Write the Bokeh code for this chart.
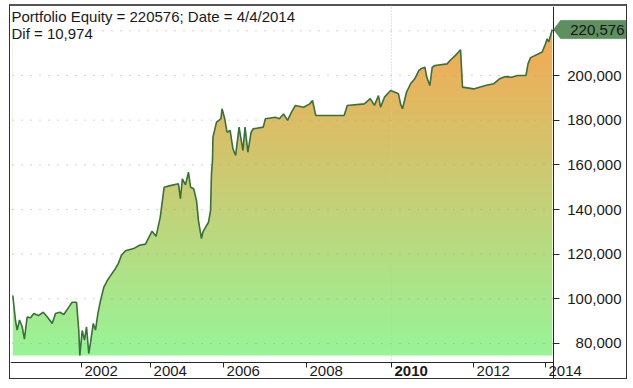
import numpy as np
from bokeh.plotting import figure
from bokeh.models import (Range1d, LinearAxis, FixedTicker, CustomJSTickFormatter,
                          Label, PolyAnnotation)
from bokeh.embed import file_html
from bokeh.resources import INLINE

# ---- data (bar index of the trading day, portfolio equity) ----
bars = [2, 20, 31, 47, 65, 80, 98, 121, 143, 174, 206, 232, 266, 288, 317, 344, 377, 400, 429, 444,
        451, 467, 482, 496, 511, 523, 541, 556, 572, 590, 612, 635, 657, 690, 710, 730, 757, 811, 851, 891,
        935, 962, 990, 1016, 1057, 1112, 1125, 1138, 1159, 1179, 1193, 1214, 1233, 1246, 1266, 1276, 1293,
        1313, 1327, 1333, 1340, 1343, 1367, 1396, 1404, 1422, 1437, 1458, 1477, 1495, 1518, 1544, 1558,
        1577, 1599, 1612, 1680, 1694, 1761, 1788, 1816, 1843, 1869, 1896, 1950, 1991, 2010, 2032, 2222,
        2243, 2357, 2397, 2425, 2452, 2466, 2492, 2533, 2559, 2586, 2600, 2613, 2640, 2667, 2695, 2722,
        2736, 2763, 2776, 2796, 2812, 2831, 2912, 2931, 2968, 3002, 3015, 3089, 3169, 3223, 3263, 3303,
        3343, 3384, 3440, 3454, 3471, 3549, 3571, 3582, 3593, 3616]
equity = [101500, 90300, 86000, 90500, 87500, 82000, 91800, 91500, 93400, 92500, 94000, 92000, 89000,
          93400, 94000, 93000, 96300, 98500, 98500, 85800, 74600, 85800, 81500, 87500, 75500, 80500, 89000,
          86000, 93400, 99300, 105200, 108200, 110400, 113600, 116000, 119500, 121500, 122500, 124000,
          124500, 130300, 128000, 136600, 150000, 150700, 151500, 144800, 153700, 151000, 156700, 150000,
          149300, 144000, 135000, 127000, 130000, 132000, 134300, 139500, 156000, 162000, 172400, 179100,
          180600, 185100, 180600, 174600, 175400, 167200, 164200, 176900, 166400, 176900, 165700, 174600,
          176100, 176900, 180600, 181300, 180600, 182800, 179900, 183600, 186600, 185800, 187300, 188800,
          182100, 182100, 186600, 187300, 189600, 186600, 191000, 185800, 190300, 193300, 192600, 191800,
          187300, 185100, 192600, 196300, 198500, 202200, 203000, 203700, 199200, 195500, 203700, 204500,
          205200, 206700, 209000, 211500, 194800, 194000, 195500, 196300, 198500, 199500, 199200, 200000,
          200000, 205200, 208000, 210500, 214200, 216400, 215000, 220576]

year_labels = ["2002", "2004", "2006", "2008", "2010", "2012", "2014"]
year_bars = [462, 925, 1414, 1970, 2539, 3089, 3571]
bold_year = "2010"
y_ticks = [80000, 100000, 120000, 140000, 160000, 180000, 200000, 220000]
y_labeled = [80000, 100000, 120000, 140000, 160000, 180000, 200000]
title_line1 = "Portfolio Equity = 220576; Date = 4/4/2014"
title_line2 = "Dif = 10,974"
last_text = "220,576"

# ---- layout (frame covers the whole bordered box; plot area ends at x_plot / y_plot) ----
W, H = 618, 375
x_start, x_end = -13.4, 4127.2
y_start, y_end = 62985, 230896
x_plot = 3624.7     # right edge of the plotting area (y axis line)
y_plot = 71493      # bottom edge of the plotting area (x axis line)
bpp = (x_end - x_start) / W
vpp = (y_end - y_start) / H
FONT = "Liberation Sans"
DARK = "#262626"
TXT = "#1a1a1a"

p = figure(width=W, height=H, x_range=Range1d(x_start, x_end), y_range=Range1d(y_start, y_end),
           output_backend="svg", toolbar_location=None, title=None,
           x_axis_location=None, y_axis_location=None,
           min_border_left=0, min_border_top=0, min_border_right=0, min_border_bottom=0)
p.outline_line_color = None
p.background_fill_color = "white"
p.border_fill_color = "white"
p.styles = {"margin-left": "9px", "margin-top": "4px",
            "border": "1px solid #333333", "border-top": "2px solid #555555"}
for g in p.grid:
    g.visible = False

# gradient fill under the curve: image then white mask above the curve
base = min(equity)
top = max(equity)
n = 256
t = np.linspace(0, 1, n)
c_bot = np.array([152, 245, 152])
c_top = np.array([246, 168, 82])
cols = (c_bot[None, :] * (1 - t[:, None]) + c_top[None, :] * t[:, None]).astype(np.uint8)
img = np.empty((n, 1), dtype=np.uint32)
view = img.view(dtype=np.uint8).reshape((n, 1, 4))
view[:, 0, 0:3] = cols
view[:, 0, 3] = 255
p.image_rgba(image=[img], x=bars[0], y=base, dw=bars[-1] - bars[0], dh=top - base)
p.varea(x=bars, y1=equity, y2=y_end, fill_color="white")

# grid lines (limited to the plotting area)
p.segment(x0=[x_start + 2 * bpp] * len(y_ticks), y0=y_ticks, x1=[x_plot] * len(y_ticks), y1=y_ticks,
          line_color="#A8A8A8", line_dash="1 8", line_width=1)
decade_bar = year_bars[year_labels.index(bold_year)]
p.segment(x0=[decade_bar], y0=[y_plot], x1=[decade_bar], y1=[y_end],
          line_color="#C4C4C4", line_dash="1 2", line_width=1)

p.line(bars, equity, line_color="#3A703A", line_width=1.6)

# axes at the plotting-area edges (labels drawn as Labels)
empty = CustomJSTickFormatter(code="return ''")
xaxis = LinearAxis(ticker=FixedTicker(ticks=year_bars, minor_ticks=[]), formatter=empty,
                   fixed_location=y_plot, bounds=(x_start, x_plot),
                   major_tick_out=5, major_tick_in=0, minor_tick_out=0, minor_tick_in=0,
                   axis_line_color=DARK, major_tick_line_color=DARK, major_label_standoff=0)
p.add_layout(xaxis, "below")
yaxis = LinearAxis(ticker=FixedTicker(ticks=y_ticks, minor_ticks=[]), formatter=empty,
                   fixed_location=x_plot, bounds=(y_start, y_end),
                   major_tick_out=6, major_tick_in=0, minor_tick_out=0, minor_tick_in=0,
                   axis_line_color=DARK, major_tick_line_color=DARK, major_label_standoff=0)
p.add_layout(yaxis, "right")

# x labels
for yb, lab in zip(year_bars, year_labels):
    p.add_layout(Label(x=yb, y=y_plot, x_offset=3, y_offset=-9, text=lab, text_font=FONT,
                       text_font_size="15px", text_color=TXT,
                       text_font_style="bold" if lab == bold_year else "normal",
                       text_align="left", text_baseline="middle"))
# y labels
for v in y_labeled:
    p.add_layout(Label(x=x_plot, y=v, x_offset=68, y_offset=0, text=f"{v:,}", text_font=FONT,
                       text_font_size="15px", text_color=TXT,
                       text_align="right", text_baseline="middle"))

# title lines
p.add_layout(Label(x=x_start, y=y_end, x_offset=1, y_offset=-9.5, text=title_line1, text_font=FONT,
                   text_font_size="15px", text_color=TXT, text_baseline="middle",
                   background_fill_color="white"))
p.add_layout(Label(x=x_start, y=y_end, x_offset=1, y_offset=-26.5, text=title_line2, text_font=FONT,
                   text_font_size="15px", text_color=TXT, text_baseline="middle",
                   background_fill_color="white"))

# last value tag
lv = equity[-1]
hh = 9.2 * vpp
p.add_layout(PolyAnnotation(xs=[x_plot, x_plot + 7 * bpp, x_plot + 74 * bpp, x_plot + 74 * bpp, x_plot + 7 * bpp],
                            ys=[lv, lv + hh, lv + hh, lv - hh, lv - hh],
                            fill_color="#5E8F5E", fill_alpha=1, line_color="#4C7C4C", line_width=1))
p.add_layout(Label(x=x_plot, y=lv, x_offset=71, y_offset=0, text=last_text, text_font=FONT,
                   text_font_size="15px", text_color="#141414",
                   text_align="right", text_baseline="middle"))

open("out.html", "w").write(file_html(p, INLINE))
